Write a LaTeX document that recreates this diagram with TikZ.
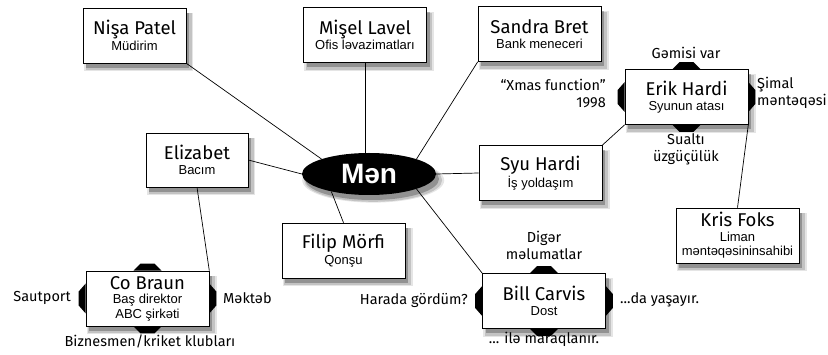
\documentclass[tikz,border=0pt]{standalone}
\usepackage{fontspec}
\setmainfont{Liberation Sans}
\newfontfamily\handfont{Fira Sans}
\usetikzlibrary{shadows, shapes.geometric}

\newcommand{\namefont}{\handfont\fontsize{18.5}{20}\selectfont}
\newcommand{\subfont}{\fontsize{13}{14.5}\selectfont}
\newcommand{\notefont}{\handfont\fontsize{14.5}{17}\selectfont}

\newcommand{\sidetabs}[1]{%
  \fill (#1.north) ++(-14, 0) -- ++(7, -7) -- ++(14, 0) -- ++(7, 7) -- cycle;
  \fill (#1.south) ++(-14, 0) -- ++(7, 7) -- ++(14, 0) -- ++(7, -7) -- cycle;
  \fill (#1.west) ++(0, -15) -- ++(-7, 8) -- ++(0, 14) -- ++(7, 8) -- cycle;
  \fill (#1.east) ++(0, -15) -- ++(7, 8) -- ++(0, 14) -- ++(-7, 8) -- cycle;
}

\tikzset{
  softshadow/.style = {
    drop shadow = {shadow xshift = 4pt, shadow yshift = -6pt, shadow scale = 1.06,
      fill = black, opacity = 0.1},
    drop shadow = {shadow xshift = 4pt, shadow yshift = -6pt, shadow scale = 1.03,
      fill = black, opacity = 0.15},
    drop shadow = {shadow xshift = 3pt, shadow yshift = -5pt,
      fill = black, opacity = 0.25}},
  person/.style = {draw = black, line width = 0.6pt, fill = white,
    minimum width = 123pt, minimum height = 55pt, inner sep = 1pt,
    align = center, font = \subfont, softshadow},
  note/.style = {font = \notefont, inner sep = 0pt, align = center},
  link/.style = {line width = 0.7pt}
}

\begin{document}
\begin{tikzpicture}[x = 1pt, y = -1pt]
    \useasboundingbox (0, 0) rectangle (828, 355);

    \node[person, minimum width = 103pt] (nisa) at (134.5, 35.5)
      {{\namefont Nişa Patel}\\[1pt] Müdirim};
    \node[person] (misel) at (365, 35)
      {{\namefont Mişel Lavel}\\[1pt] Ofis ləvazimatları};
    \node[person] (sandra) at (539.5, 34)
      {{\namefont Sandra Bret}\\[1pt] Bank meneceri};
    \node[person] (erik) at (686.5, 97)
      {{\namefont Erik Hardi}\\[1pt] Syunun atası};
    \node[person] (syu) at (540.5, 173)
      {{\namefont Syu Hardi}\\[1pt] İş yoldaşım};
    \node[person] (kris) at (737.5, 235.5)
      {{\namefont Kris Foks}\\[0pt] Liman\\[0pt] məntəqəsininsahibi};
    \node[person] (bill) at (544, 301)
      {{\namefont Bill Carvis}\\[1pt] Dost};
    \node[person] (filip) at (343.5, 250.5)
      {{\namefont Filip Mörfi}\\[1pt] Qonşu};
    \node[person, minimum width = 102pt, minimum height = 54pt] (elizabet) at (197, 160)
      {{\namefont Elizabet}\\[1pt] Bacım};
    \node[person] (co) at (147.5, 298.5)
      {{\namefont Co Braun}\\[0pt] Baş direktor\\[0pt] ABC şirkəti};

    \node[ellipse, fill = black, minimum width = 134pt, minimum height = 42pt,
      inner sep = 0pt, softshadow, text = white,
      font = \bfseries\fontsize{28}{30}\selectfont] (men) at (369, 174) {Mən};

    \draw[link] (nisa.south east) -- (men.north west);
    \draw[link] (misel.south) -- (misel.south |- men.north);
    \draw[link] (sandra.south west) -- (men.north east);
    \draw[link] (elizabet.east) -- (men.west);
    \draw[link] (syu.west) -- (men.east);
    \draw[link] (filip.north) -- (men.205);
    \draw[link] (bill.north west) -- (men.south east);
    \draw[link] (syu.north east) -- (erik.south west);
    \draw[link] (erik.south east) -- (kris.north);
    \draw[link] (elizabet.south) -- (co.north east);

    \sidetabs{erik}
    \sidetabs{bill}
    \sidetabs{co}

    \node[note] (gemisi) at (686, 53) {Gəmisi var};
    \node[note, anchor = east, align = right] (xmas) at (606, 94)
      {“Xmas function”\\1998};
    \node[note, anchor = west, align = left] (simal) at (757, 93)
      {Şimal\\məntəqəsi};
    \node[note] (sualti) at (686, 149) {Sualtı\\üzgüçülük};

    \node[note] (diger) at (544, 245) {Digər\\məlumatlar};
    \node[note, anchor = east] (harada) at (468, 300) {Harada gördüm?};
    \node[note, anchor = west] (yasayir) at (620, 300) {...da yaşayır.};
    \node[note] (maraq) at (544, 339) {... ilə maraqlanır.};

    \node[note, anchor = east] (sautport) at (71, 298) {Sautport};
    \node[note, anchor = west] (mekteb) at (223, 298) {Məktəb};
    \node[note] (biznes) at (150, 341) {Biznesmen/kriket klubları};
  \end{tikzpicture}
\end{document}
